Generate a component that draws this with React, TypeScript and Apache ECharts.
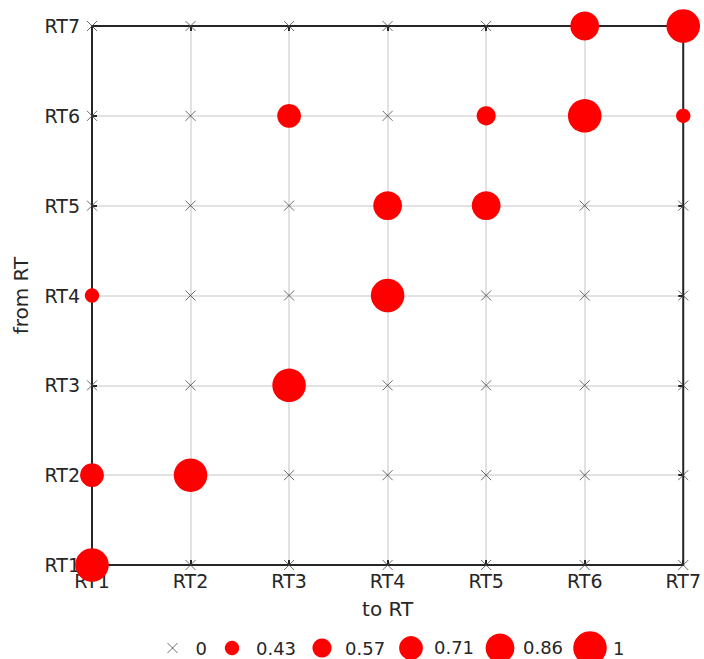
import React, { useEffect, useRef } from "react";
import * as echarts from "echarts";

const categories = ["RT1", "RT2", "RT3", "RT4", "RT5", "RT6", "RT7"];
// rows: from RT1..RT7, columns: to RT1..RT7
const fromRT1 = [1, 0, 0, 0, 0, 0, 0];
const fromRT2 = [0.71, 1, 0, 0, 0, 0, 0];
const fromRT3 = [0, 0, 1, 0, 0, 0, 0];
const fromRT4 = [0.43, 0, 0, 1, 0, 0, 0];
const fromRT5 = [0, 0, 0, 0.86, 0.86, 0, 0];
const fromRT6 = [0, 0, 0.71, 0, 0.57, 1, 0.43];
const fromRT7 = [0, 0, 0, 0, 0, 0.86, 1];
const levels = [0.43, 0.57, 0.71, 0.86, 1];
const levelLabels = ["0.43", "0.57", "0.71", "0.86", "1"];

const matrix = [fromRT1, fromRT2, fromRT3, fromRT4, fromRT5, fromRT6, fromRT7];

const FONT = "DejaVu Sans";
const TXT = "#262626";
const CROSS = "path://M0,0L10,10M10,0L0,10";
const LH = 18;

export default function App() {
  const ref = useRef<HTMLDivElement>(null);
  useEffect(() => {
    if (!ref.current) return;
    const chart = echarts.init(ref.current, undefined, { renderer: "svg" });

    const zeroPts: number[][] = [];
    matrix.forEach((row, yi) =>
      row.forEach((v, xi) => {
        if (v === 0) zeroPts.push([xi, yi]);
      })
    );
    const sizeOf = (v: number) => v * 33.5;

    const circleSeries = levels.map((lv, i) => {
      const pts: number[][] = [];
      matrix.forEach((row, yi) =>
        row.forEach((v, xi) => {
          if (v === lv) pts.push([xi, yi]);
        })
      );
      return {
        type: "scatter",
        name: levelLabels[i],
        data: pts,
        symbol: "circle",
        symbolSize: sizeOf(lv),
        clip: false,
        itemStyle: { color: "#ff0000", opacity: 1 },
        z: 3,
      };
    });

    const legendCenters = [232, 322, 411, 500, 590];
    const legendTextStarts = [257, 346, 435, 524, 614];
    const legendY = 648;

    const legends: any[] = [
      {
        data: [{ name: "0", icon: CROSS }],
        left: 167,
        top: legendY - LH / 2,
        padding: 0,
        itemWidth: 10,
        itemHeight: 10,
        itemGap: 0,
        itemStyle: { color: "rgba(0,0,0,0)", borderColor: "#444", borderWidth: 1 },
        textStyle: { fontFamily: FONT, fontSize: 18, lineHeight: LH, color: TXT, padding: [0, 0, 0, 195 - 182] },
        selectedMode: false,
      },
      ...levels.map((lv, i) => {
        const d = sizeOf(lv);
        const iconLeft = legendCenters[i] - d / 2;
        const pad = legendTextStarts[i] - 1 - (iconLeft + d + 5);
        return {
          data: [{ name: levelLabels[i], icon: "circle" }],
          left: iconLeft,
          top: legendY - Math.max(d, LH) / 2,
          padding: 0,
          itemWidth: d,
          itemHeight: d,
          itemStyle: { color: "#ff0000" },
          textStyle: { fontFamily: FONT, fontSize: 18, lineHeight: LH, color: TXT, padding: [0, 0, 0, Math.max(0, pad)] },
          selectedMode: false,
        };
      }),
    ];

    const catAxisBase = {
      type: "category",
      data: categories,
      boundaryGap: false,
    };

    chart.setOption({
      animation: false,
      backgroundColor: "#ffffff",
      grid: {
        left: 92,
        right: 19,
        top: 26,
        bottom: 94,
        show: true,
        borderColor: TXT,
        borderWidth: 2,
        z: 1,
      },
      legend: legends,
      xAxis: [
        {
          ...catAxisBase,
          position: "bottom",
          name: "to RT",
          nameLocation: "middle",
          nameGap: 34,
          nameTextStyle: { fontFamily: FONT, fontSize: 20, color: TXT },
          axisLine: { show: false },
          axisTick: { show: true, inside: true, length: 5, lineStyle: { color: TXT, width: 2 } },
          axisLabel: { fontFamily: FONT, fontSize: 19, color: TXT, margin: 6 },
          splitLine: { show: true, lineStyle: { color: "#e2e2e2", width: 2 } },
        },
        {
          ...catAxisBase,
          position: "top",
          axisLine: { show: false },
          axisTick: { show: true, inside: true, length: 5, lineStyle: { color: TXT, width: 2 } },
          axisLabel: { show: false },
          splitLine: { show: false },
        },
      ],
      yAxis: [
        {
          ...catAxisBase,
          position: "left",
          name: "from RT",
          nameLocation: "middle",
          nameGap: 61,
          nameTextStyle: { fontFamily: FONT, fontSize: 20, color: TXT },
          axisLine: { show: false },
          axisTick: { show: true, inside: true, length: 5, lineStyle: { color: TXT, width: 2 } },
          axisLabel: { fontFamily: FONT, fontSize: 19, color: TXT, margin: 12 },
          splitLine: { show: true, lineStyle: { color: "#e2e2e2", width: 2 } },
        },
        {
          ...catAxisBase,
          position: "right",
          axisLine: { show: false },
          axisTick: { show: true, inside: true, length: 5, lineStyle: { color: TXT, width: 2 } },
          axisLabel: { show: false },
          splitLine: { show: false },
        },
      ],
      series: [
        {
          type: "scatter",
          name: "0",
          data: zeroPts,
          symbol: CROSS,
          symbolSize: 10,
          clip: false,
          itemStyle: { color: "rgba(0,0,0,0)", borderColor: "#444", borderWidth: 1 },
          z: 4,
        },
        ...circleSeries,
      ],
    } as any);

    return () => chart.dispose();
  }, []);

  return (
    <div
      ref={ref}
      style={{ position: "fixed", left: 0, top: 0, width: 704, height: 659 }}
    />
  );
}
